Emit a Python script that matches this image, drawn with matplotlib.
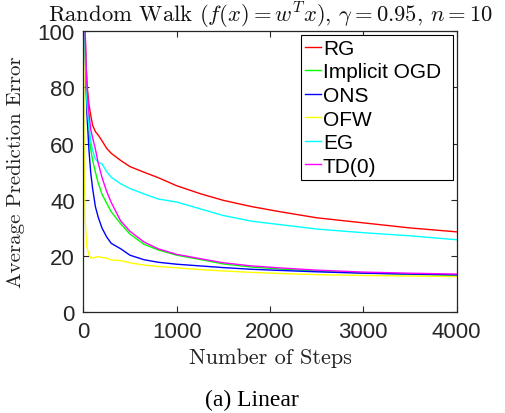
import matplotlib
matplotlib.use("Agg")
import matplotlib.pyplot as plt
import numpy as np

steps = [0, 10, 20, 30, 40, 60, 80, 100, 130, 160, 200, 250, 300, 400, 500,
         650, 800, 1000, 1250, 1500, 1800, 2100, 2500, 3000, 3500, 4000]

rg = [200, 140, 100, 88, 81, 74, 70, 66.5, 64.2, 63, 61, 58.3, 56.5, 54, 51.8,
      49.8, 47.9, 45, 42.2, 39.8, 37.6, 35.8, 33.6, 31.8, 30, 28.6]
implicit_ogd = [200, 130, 95, 82, 74, 65, 58, 54, 49.8, 46, 42, 38.8, 35.7, 31.5, 27.8,
                24.2, 22.2, 20.3, 18.8, 17.2, 16.1, 15.4, 14.7, 14.0, 13.5, 13.1]
ons = [200, 130, 92, 80, 70, 58, 49.5, 44, 37.5, 33.8, 30, 26.8, 24.5, 22.6, 20.3,
       18.7, 17.8, 17.1, 16.5, 15.9, 15.3, 14.9, 14.4, 13.9, 13.6, 13.3]
ofw = [130, 55, 33, 27, 23, 20.5, 19.4, 19.3, 19.6, 19.8, 19.5, 19.3, 18.6, 18.4, 17.6,
       16.8, 16.3, 15.8, 15.2, 14.7, 14.2, 13.8, 13.4, 13.1, 12.9, 12.7]
eg = [200, 130, 95, 82, 74, 66, 61, 57.5, 54.5, 53.3, 52.8, 50, 48, 45.7, 44,
      42.1, 40.3, 39.2, 36.8, 34.4, 32.4, 31.2, 29.6, 28.3, 27.2, 25.8]
td0 = [200, 140, 100, 88, 80, 71, 65, 62, 58, 53, 48, 43, 39, 32.5, 28.8,
       25, 22.6, 20.6, 19.1, 17.6, 16.5, 15.8, 15.0, 14.3, 13.9, 13.6]

series = [("RG", rg, "#ff0000"),
          ("Implicit OGD", implicit_ogd, "#00ff00"),
          ("ONS", ons, "#0000ff"),
          ("OFW", ofw, "#ffff00"),
          ("EG", eg, "#00ffff"),
          ("TD(0)", td0, "#ff00ff")]

xticks = [0, 1000, 2000, 3000, 4000]
yticks = [0, 20, 40, 60, 80, 100]

plt.rcParams['mathtext.fontset'] = 'cm'
sans = ['Liberation Sans', 'DejaVu Sans']
serif = ['cmr10', 'DejaVu Serif']
axcol = '#262626'

fig = plt.figure(figsize=(5.06, 4.14), dpi=100)
ax = fig.add_axes([0.1646, 0.2432, 0.738, 0.6795])

for name, vals, col in series:
    ax.plot(steps, vals, color=col, lw=1.0, label=name)

ax.set_xlim(0, 4000)
ax.set_ylim(0, 100)
ax.set_xticks(xticks)
ax.set_yticks(yticks)
ax.tick_params(direction='in', top=True, right=True, length=4, width=0.8,
               colors=axcol, labelsize=16, pad=6)
for lab in ax.get_xticklabels() + ax.get_yticklabels():
    lab.set_family(sans)
for sp in ax.spines.values():
    sp.set_color(axcol)
    sp.set_linewidth(0.9)

ax.set_title(r"Random Walk ($f(x) = w^T x$), $\gamma = 0.95$, $n = 10$",
             family=serif, fontsize=16.3, pad=6.5, color='#111111')
ax.set_xlabel("Number of Steps", family=serif, fontsize=16, labelpad=4.5, color='#222222')
ax.set_ylabel("Average Prediction Error", family=serif, fontsize=15, labelpad=9, color='#222222')

leg = ax.legend(loc='upper left', bbox_to_anchor=(0.583, 0.5, 0.407, 0.487),
                mode='expand', frameon=True,
                fancybox=False, edgecolor='black', framealpha=1,
                prop={'family': sans, 'size': 15},
                handlelength=0.75, handletextpad=0.1, labelspacing=0.22,
                borderpad=0.2, borderaxespad=0.0)
leg.get_frame().set_linewidth(0.8)

fig.text(0.497, 0.02, "(a) Linear", family=['Liberation Serif', 'DejaVu Serif'],
         fontsize=17, ha='center', va='baseline')

fig.savefig("out.png", dpi=100)
